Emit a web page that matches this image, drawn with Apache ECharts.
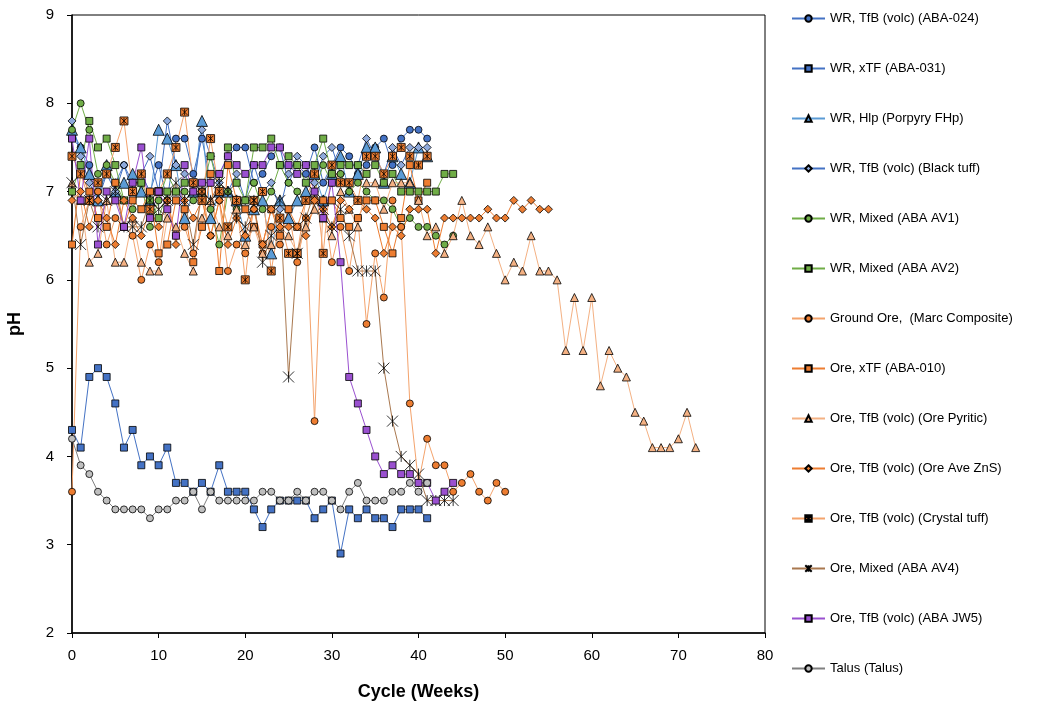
<!DOCTYPE html>
<html><head><meta charset="utf-8">
<script src="https://cdn.jsdelivr.net/npm/echarts@6/dist/echarts.min.js"></script>
<style>html,body{margin:0;padding:0;background:#fff}#c{width:1042px;height:705px}</style>
</head><body><div id="c"></div>
<script>
// Series names (legend order)
const names = [
  "WR, TfB (volc) (ABA-024)", "WR, xTF (ABA-031)", "WR, Hlp (Porpyry FHp)", "WR, TfB (volc) (Black tuff)",
  "WR, Mixed (ABA AV1)", "WR, Mixed (ABA AV2)", "Ground Ore,  (Marc Composite)", "Ore, xTF (ABA-010)",
  "Ore, TfB (volc) (Ore Pyritic)", "Ore, TfB (volc) (Ore Ave ZnS)", "Ore, TfB (volc) (Crystal tuff)",
  "Ore, Mixed (ABA AV4)", "Ore, TfB (volc) (ABA JW5)", "Talus (Talus)"
];
// pH values by week (index = cycle week, starting at 0)
const aba024 = [7.6,7.5,7.3,7.0,7.2,7.1,7.3,7.0,7.2,7.0,7.3,6.9,7.6,7.6,7.2,7.6,7.1,7.2,7.4,7.5,7.5,7.1,7.2,7.4,7.5,7.1,7.3,7.2,7.5,7.1,7.3,7.5,7.4,7.2,7.3,7.5,7.6,7.3,7.6,7.7,7.7,7.6];
const aba031 = [4.3,4.1,4.9,5.0,4.9,4.6,4.1,4.3,3.9,4.0,3.9,4.1,3.7,3.7,3.6,3.7,3.6,3.9,3.6,3.6,3.6,3.4,3.2,3.4,3.5,3.5,3.5,3.5,3.3,3.4,3.5,2.9,3.4,3.3,3.4,3.3,3.3,3.2,3.4,3.4,3.4,3.3];
const hlp = [7.7,7.5,7.2,6.9,7.3,7.0,7.1,7.2,7.0,6.9,7.7,7.6,7.3,6.7,7.0,7.8,6.7,7.0,7.0,6.9,6.5,6.8,6.9,6.3,6.9,6.7,6.9,7.0,7.2,6.9,7.2,7.4,7.0,7.2,7.5,7.5,7.1,7.4,7.2,7.1,7.5,7.4];
const blackTuff = [7.8,7.4,7.1,6.9,7.2,7.0,7.3,7.1,7.2,7.4,7.0,7.8,7.3,7.2,7.0,7.7,7.4,7.1,7.0,7.2,6.9,7.3,7.0,7.1,6.8,7.2,7.4,7.3,7.1,7.4,7.5,7.2,7.0,7.3,7.6,7.4,7.2,7.5,7.3,7.5,7.5,7.5];
const av1 = [7.7,8.0,7.7,7.2,7.3,7.1,6.9,6.8,7.1,6.6,6.9,7.2,7.0,7.0,6.9,7.0,6.8,6.4,7.0,6.8,6.9,7.1,6.8,7.0,7.3,7.1,7.0,6.9,7.0,7.3,7.1,7.2,7.0,7.1,7.0,6.9,6.9,6.8,6.6,6.7,6.6,6.6,6.5,6.4,6.5];
const av2 = [7.0,7.3,7.8,7.5,7.6,7.3,6.9,7.0,7.1,6.9,6.7,7.0,7.0,7.1,7.1,7.0,7.4,7.0,7.5,7.1,6.9,7.5,7.5,7.6,7.3,7.4,7.3,7.1,7.3,7.6,7.2,7.3,7.3,7.3,7.2,7.3,7.1,7.2,7.0,7.0,7.0,7.0,7.0,7.2,7.2];
const groundOre = [3.6,6.6,6.9,7.0,6.4,6.7,6.6,6.5,6.0,6.4,6.2,6.9,6.5,6.6,6.3,7.0,6.5,6.9,6.1,6.4,6.3,6.8,6.3,6.6,6.4,6.8,6.2,6.7,4.4,6.9,6.2,6.6,6.1,6.7,5.5,6.3,5.8,6.9,6.6,4.6,3.7,4.2,3.9,3.9,3.6,3.7,3.8,3.6,3.5,3.7,3.6];
const oreXtf = [6.4,7.2,7.0,6.7,6.6,7.1,6.6,6.9,6.8,7.0,6.3,6.4,6.9,6.8,6.2,6.6,7.2,6.1,7.3,6.9,6.8,6.6,6.4,6.8,6.5,6.8,6.6,6.9,6.9,6.9,6.9,6.7,6.6,6.7,6.9,6.9,6.6,6.3,6.7,7.3,6.9,7.1];
const pyritic = [7.1,6.9,6.2,6.3,6.9,6.2,6.2,6.7,6.2,6.1,6.1,6.7,6.6,6.3,6.1,6.7,6.9,6.6,6.5,6.8,6.4,6.6,6.3,6.4,6.6,6.5,6.3,6.6,6.8,6.7,6.5,7.0,6.8,6.6,7.1,7.1,6.8,7.1,7.1,7.1,6.9,6.5,6.6,6.3,6.5,6.9,6.5,6.4,6.6,6.3,6.0,6.2,6.1,6.5,6.1,6.1,6.0,5.2,5.8,5.2,5.8,4.8,5.2,5.0,4.9,4.5,4.4,4.1,4.1,4.1,4.2,4.5,4.1];
const znS = [6.9,7.0,6.6,6.9,6.7,6.4,6.9,6.7,6.5,6.8,6.6,6.9,6.4,6.9,6.7,6.9,6.5,6.9,6.4,6.7,6.5,6.8,6.4,6.8,6.6,6.6,6.6,6.5,6.9,6.8,6.6,6.9,6.8,6.9,6.8,6.7,6.3,6.6,6.5,6.8,6.8,6.8,6.3,6.7,6.7,6.7,6.7,6.7,6.8,6.7,6.7,6.9,6.8,6.9,6.8,6.8];
const crystalTuff = [7.4,7.2,6.9,7.1,7.2,7.5,7.8,7.0,7.2,6.8,7.0,7.2,7.5,7.9,7.1,6.9,7.6,7.0,6.6,6.9,6.0,6.9,7.0,6.1,6.7,6.3,6.3,6.9,7.2,6.3,7.3,7.1,7.1,6.9,7.4,7.4,7.2,7.4,7.5,7.4,7.3,7.4];
const av4 = [7.1,6.4,6.9,6.6,6.9,7.0,6.6,6.6,6.6,6.9,6.8,6.9,7.1,6.9,6.4,7.0,6.9,7.1,7.0,6.7,6.6,6.9,6.2,6.5,6.9,4.9,6.3,6.7,7.0,6.8,6.6,6.8,6.5,6.1,6.1,6.1,5.0,4.4,4.0,3.9,3.8,3.5,3.5,3.5,3.5];
const jw5 = [7.6,6.9,7.6,6.4,7.0,6.9,6.6,7.1,7.5,6.7,7.0,6.8,6.5,7.3,7.0,7.1,7.1,7.2,7.4,7.3,7.2,7.3,7.3,7.5,7.5,7.3,7.2,7.3,7.0,6.7,7.1,6.2,4.9,4.6,4.3,4.0,3.8,3.9,3.8,3.8,3.7,3.7,3.5,3.6,3.7];
const talus = [4.2,3.9,3.8,3.6,3.5,3.4,3.4,3.4,3.4,3.3,3.4,3.4,3.5,3.5,3.6,3.4,3.6,3.5,3.5,3.5,3.5,3.5,3.6,3.6,3.5,3.5,3.6,3.5,3.6,3.6,3.5,3.4,3.6,3.7,3.5,3.5,3.5,3.6,3.6,3.7,3.6,3.7];
// Axis ticks
const xTicks = [0,10,20,30,40,50,60,70,80];
const yTicks = [2,3,4,5,6,7,8,9];

const allValues = [aba024, aba031, hlp, blackTuff, av1, av2, groundOre, oreXtf, pyritic, znS, crystalTuff, av4, jw5, talus];

const crossSq = 'path://M0,0L10,0L10,10L0,10Z M1.5,1.5L8.5,8.5 M8.5,1.5L1.5,8.5 M5,1L5,9';
const star = 'path://M0,0L10,10 M10,0L0,10 M5,0L5,10';
const styles = [
  {sym:'circle', size:7, fill:'#4472C4', line:'#4472C4'},
  {sym:'rect', size:7, fill:'#4472C4', line:'#4472C4'},
  {sym:'triangle', size:11, fill:'#5B9BD5', line:'#5B9BD5'},
  {sym:'diamond', size:8, fill:'#8FAADC', line:'#4472C4'},
  {sym:'circle', size:7, fill:'#70AD47', line:'#70AD47'},
  {sym:'rect', size:7, fill:'#70AD47', line:'#70AD47'},
  {sym:'circle', size:7, fill:'#ED7D31', line:'#F4A36C'},
  {sym:'rect', size:7, fill:'#ED7D31', line:'#ED7D31'},
  {sym:'triangle', size:8, fill:'#F4B183', line:'#F4B183'},
  {sym:'diamond', size:8, fill:'#ED7D31', line:'#ED7D31'},
  {sym:crossSq, size:8, fill:'#ED7D31', line:'#F4A36C'},
  {sym:star, size:11, fill:'transparent', line:'#A9784F'},
  {sym:'rect', size:7, fill:'#9A50D0', line:'#9A50D0'},
  {sym:'circle', size:7, fill:'#BFBFBF', line:'#808080'}
];

const series = names.map((n, k) => ({
  name: n,
  type: 'line',
  data: allValues[k].map((v, i) => [i, v]),
  symbol: styles[k].sym,
  symbolSize: styles[k].size,
  showAllSymbol: true,
  lineStyle: {color: styles[k].line, width: 1},
  itemStyle: {color: styles[k].fill, borderColor: '#000', borderWidth: 0.8},
  emphasis: {disabled: true},
  animation: false
}));

const chart = echarts.init(document.getElementById('c'), null, {renderer: 'canvas'});
chart.setOption({
  backgroundColor: '#fff',
  animation: false,
  textStyle: {fontFamily: 'Liberation Sans, Arial, sans-serif'},
  grid: {left: 72, top: 15, right: 277, bottom: 72, outerBoundsMode: 'none', show: true, borderColor: '#000', borderWidth: 1, backgroundColor: 'transparent'},
  legend: {
    orient: 'vertical', left: 786, top: 7, itemWidth: 33, itemHeight: 8, itemGap: 37,
    textStyle: {fontSize: 13, color: '#000', fontFamily: 'Liberation Sans, Arial, sans-serif'},
    data: names
  },
  xAxis: {
    type: 'value', min: xTicks[0], max: xTicks[xTicks.length-1], interval: 10,
    name: 'Cycle (Weeks)', nameLocation: 'middle', nameGap: 50,
    nameTextStyle: {fontSize: 18, fontWeight: 'bold', color: '#000'},
    axisLine: {show: true, lineStyle: {color: '#000', width: 1.5}},
    axisTick: {show: true, inside: false, length: 5, lineStyle: {color: '#000'}},
    axisLabel: {fontSize: 15, color: '#000', margin: 15},
    splitLine: {show: false}
  },
  yAxis: {
    type: 'value', min: yTicks[0], max: yTicks[yTicks.length-1], interval: 1,
    name: 'pH', nameLocation: 'middle', nameGap: 48, nameRotate: 90,
    nameTextStyle: {fontSize: 18, fontWeight: 'bold', color: '#000'},
    axisLine: {show: true, lineStyle: {color: '#000', width: 1.5}},
    axisTick: {show: true, inside: false, length: 5, lineStyle: {color: '#000'}},
    axisLabel: {fontSize: 15, color: '#000', margin: 18},
    splitLine: {show: false}
  },
  series: series
});
</script>
</body></html>
